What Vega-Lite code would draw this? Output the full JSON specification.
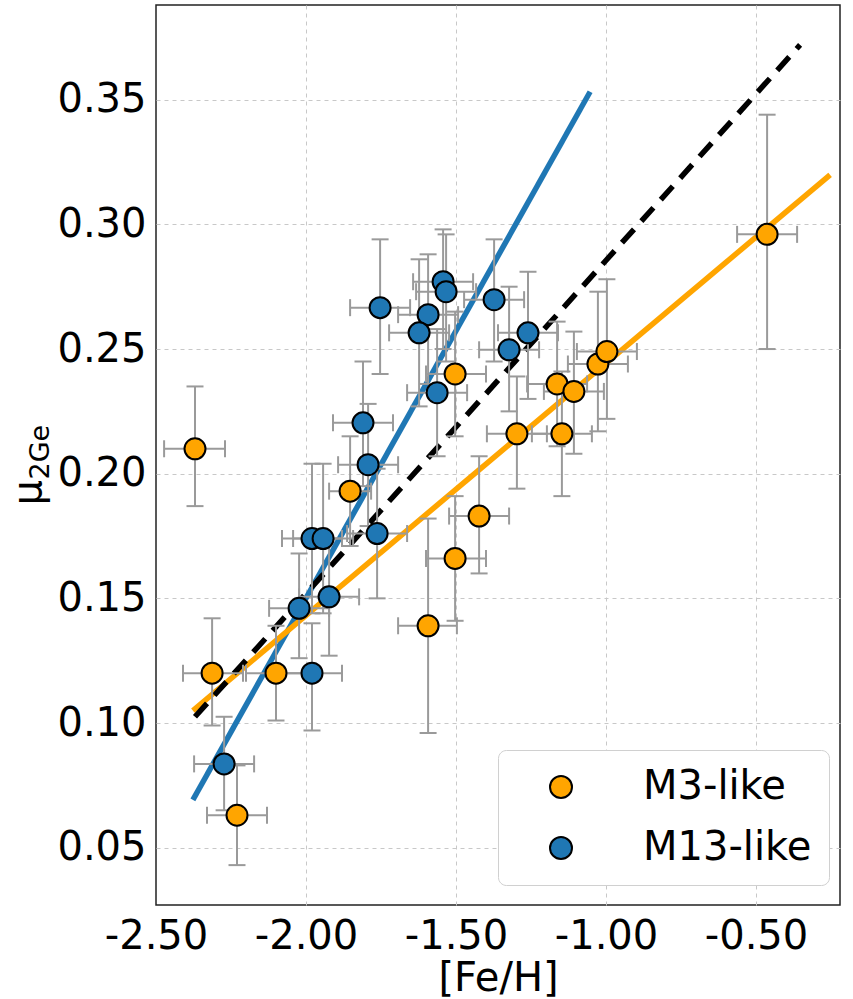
{
  "$schema": "https://vega.github.io/schema/vega-lite/v6.json",
  "width": 684,
  "height": 900,
  "autosize": {"type": "none"},
  "padding": {"left": 156, "top": 5, "right": 13, "bottom": 94},
  "background": "white",
  "config": {
    "view": {"stroke": "#222222", "strokeWidth": 1.5},
    "font": "DejaVu Sans",
    "axis": {
      "labelFont": "DejaVu Sans",
      "titleFont": "DejaVu Sans",
      "labelColor": "black",
      "titleColor": "black",
      "titleFontWeight": "normal",
      "gridColor": "#c8c8c8",
      "gridDash": [4, 4],
      "gridWidth": 1,
      "domain": false,
      "ticks": false
    },
    "legend": {
      "labelFont": "DejaVu Sans"
    }
  },
  "datasets": {
    "pts": [
      {"group": "M3-like", "x": -2.37, "y": 0.210, "xlo": -2.473, "xhi": -2.27, "ylo": 0.187, "yhi": 0.235},
      {"group": "M3-like", "x": -2.313, "y": 0.120, "xlo": -2.41, "xhi": -2.21, "ylo": 0.099, "yhi": 0.142},
      {"group": "M3-like", "x": -2.23, "y": 0.063, "xlo": -2.33, "xhi": -2.13, "ylo": 0.043, "yhi": 0.083},
      {"group": "M3-like", "x": -2.10, "y": 0.120, "xlo": -2.20, "xhi": -2.00, "ylo": 0.101, "yhi": 0.139},
      {"group": "M3-like", "x": -1.853, "y": 0.193, "xlo": -1.923, "xhi": -1.783, "ylo": 0.171, "yhi": 0.215},
      {"group": "M3-like", "x": -1.593, "y": 0.139, "xlo": -1.693, "xhi": -1.497, "ylo": 0.096, "yhi": 0.182},
      {"group": "M3-like", "x": -1.503, "y": 0.240, "xlo": -1.60, "xhi": -1.40, "ylo": 0.215, "yhi": 0.265},
      {"group": "M3-like", "x": -1.503, "y": 0.166, "xlo": -1.60, "xhi": -1.40, "ylo": 0.141, "yhi": 0.191},
      {"group": "M3-like", "x": -1.423, "y": 0.183, "xlo": -1.523, "xhi": -1.323, "ylo": 0.160, "yhi": 0.207},
      {"group": "M3-like", "x": -1.297, "y": 0.216, "xlo": -1.397, "xhi": -1.197, "ylo": 0.194, "yhi": 0.239},
      {"group": "M3-like", "x": -1.163, "y": 0.236, "xlo": -1.263, "xhi": -1.063, "ylo": 0.211, "yhi": 0.261},
      {"group": "M3-like", "x": -1.147, "y": 0.216, "xlo": -1.247, "xhi": -1.047, "ylo": 0.191, "yhi": 0.241},
      {"group": "M3-like", "x": -1.107, "y": 0.233, "xlo": -1.207, "xhi": -1.007, "ylo": 0.208, "yhi": 0.257},
      {"group": "M3-like", "x": -1.027, "y": 0.244, "xlo": -1.127, "xhi": -0.927, "ylo": 0.217, "yhi": 0.273},
      {"group": "M3-like", "x": -0.997, "y": 0.249, "xlo": -1.097, "xhi": -0.897, "ylo": 0.222, "yhi": 0.278},
      {"group": "M3-like", "x": -0.463, "y": 0.296, "xlo": -0.563, "xhi": -0.363, "ylo": 0.250, "yhi": 0.344},
      {"group": "M13-like", "x": -2.273, "y": 0.0836, "xlo": -2.373, "xhi": -2.173, "ylo": 0.065, "yhi": 0.1025},
      {"group": "M13-like", "x": -2.023, "y": 0.146, "xlo": -2.123, "xhi": -1.923, "ylo": 0.126, "yhi": 0.168},
      {"group": "M13-like", "x": -1.923, "y": 0.1506, "xlo": -2.023, "xhi": -1.823, "ylo": 0.127, "yhi": 0.174},
      {"group": "M13-like", "x": -1.98, "y": 0.120, "xlo": -2.08, "xhi": -1.88, "ylo": 0.097, "yhi": 0.140},
      {"group": "M13-like", "x": -1.98, "y": 0.174, "xlo": -2.08, "xhi": -1.88, "ylo": 0.144, "yhi": 0.204},
      {"group": "M13-like", "x": -1.943, "y": 0.174, "xlo": -2.043, "xhi": -1.843, "ylo": 0.144, "yhi": 0.204},
      {"group": "M13-like", "x": -1.763, "y": 0.176, "xlo": -1.863, "xhi": -1.663, "ylo": 0.150, "yhi": 0.202},
      {"group": "M13-like", "x": -1.793, "y": 0.2036, "xlo": -1.893, "xhi": -1.693, "ylo": 0.179, "yhi": 0.228},
      {"group": "M13-like", "x": -1.81, "y": 0.2204, "xlo": -1.91, "xhi": -1.71, "ylo": 0.195, "yhi": 0.245},
      {"group": "M13-like", "x": -1.563, "y": 0.2325, "xlo": -1.663, "xhi": -1.463, "ylo": 0.207, "yhi": 0.258},
      {"group": "M13-like", "x": -1.753, "y": 0.2666, "xlo": -1.853, "xhi": -1.653, "ylo": 0.240, "yhi": 0.294},
      {"group": "M13-like", "x": -1.593, "y": 0.2638, "xlo": -1.693, "xhi": -1.493, "ylo": 0.236, "yhi": 0.288},
      {"group": "M13-like", "x": -1.623, "y": 0.2565, "xlo": -1.723, "xhi": -1.523, "ylo": 0.227, "yhi": 0.286},
      {"group": "M13-like", "x": -1.543, "y": 0.277, "xlo": -1.643, "xhi": -1.443, "ylo": 0.250, "yhi": 0.298},
      {"group": "M13-like", "x": -1.533, "y": 0.273, "xlo": -1.633, "xhi": -1.433, "ylo": 0.245, "yhi": 0.296},
      {"group": "M13-like", "x": -1.373, "y": 0.2698, "xlo": -1.473, "xhi": -1.273, "ylo": 0.245, "yhi": 0.294},
      {"group": "M13-like", "x": -1.26, "y": 0.2565, "xlo": -1.36, "xhi": -1.16, "ylo": 0.230, "yhi": 0.281},
      {"group": "M13-like", "x": -1.323, "y": 0.2497, "xlo": -1.423, "xhi": -1.223, "ylo": 0.225, "yhi": 0.275}
    ],
    "fitM13": [
      {"x": -2.377, "y": 0.0692},
      {"x": -1.053, "y": 0.3532}
    ],
    "fitM3": [
      {"x": -2.377, "y": 0.105},
      {"x": -0.253, "y": 0.3199}
    ],
    "fitAll": [
      {"x": -2.37, "y": 0.1025},
      {"x": -0.353, "y": 0.372}
    ]
  },
  "resolve": {"axis": {"y": "independent"}},
  "layer": [
    {
      "data": {"name": "fitM13"},
      "mark": {"type": "line", "color": "#1f77b4", "strokeWidth": 5.5},
      "encoding": {
        "x": {"field": "x", "type": "quantitative", "title": "[Fe/H]",
              "scale": {"domain": [-2.5, -0.22], "nice": false, "zero": false},
              "axis": {"values": [-2.5, -2.0, -1.5, -1.0, -0.5], "format": ".2f",
                       "labelExpr": "replace(datum.label, '\u2212', '-')",
                       "labelFontSize": 40, "labelPadding": 11, "labelFlush": false, "labelOverlap": false,
                       "titleFontSize": 40, "titleBaseline": "alphabetic", "titleY": 85, "grid": true,
                       "gridOpacity": {"condition": {"test": "datum.value < -2.49", "value": 0}, "value": 1}}},
        "y": {"field": "y", "type": "quantitative", "title": "μ",
              "scale": {"domain": [0.027, 0.388], "nice": false, "zero": false},
              "axis": {"values": [0.05, 0.1, 0.15, 0.2, 0.25, 0.3, 0.35], "format": ".2f",
                       "labelFontSize": 40, "labelPadding": 10, "labelFlush": false, "labelOverlap": false,
                       "grid": true, "titleFontSize": 40, "titleAngle": -90,
                       "titleAlign": "left", "titleBaseline": "alphabetic",
                       "titleX": -116, "titleY": 500}}
      }
    },
    {
      "data": {"name": "fitM3"},
      "mark": {"type": "line", "color": "#FFA500", "strokeWidth": 5.5},
      "encoding": {
        "x": {"field": "x", "type": "quantitative", "title": "[Fe/H]",
              "scale": {"domain": [-2.5, -0.22], "nice": false, "zero": false}},
        "y": {"field": "y", "type": "quantitative", "title": "2Ge",
              "scale": {"domain": [0.027, 0.388], "nice": false, "zero": false},
              "axis": {"orient": "left", "labels": false, "grid": false, "domain": false, "ticks": false,
                       "titleFontSize": 27, "titleAngle": -90,
                       "titleAlign": "left", "titleBaseline": "alphabetic",
                       "titleX": -108, "titleY": 474}}
      }
    },
    {
      "data": {"name": "fitAll"},
      "mark": {"type": "line", "color": "black", "strokeWidth": 5.5, "strokeDash": [18, 11]},
      "encoding": {
        "x": {"field": "x", "type": "quantitative", "title": "[Fe/H]",
              "scale": {"domain": [-2.5, -0.22], "nice": false, "zero": false}},
        "y": {"field": "y", "type": "quantitative", "axis": null,
              "scale": {"domain": [0.027, 0.388], "nice": false, "zero": false}}
      }
    },
    {
      "data": {"name": "pts"},
      "mark": {"type": "rule", "color": "#9a9a9a", "strokeWidth": 2},
      "encoding": {
        "x": {"field": "xlo", "type": "quantitative", "title": "[Fe/H]",
              "scale": {"domain": [-2.5, -0.22], "nice": false, "zero": false}},
        "x2": {"field": "xhi"},
        "y": {"field": "y", "type": "quantitative", "axis": null,
              "scale": {"domain": [0.027, 0.388], "nice": false, "zero": false}}
      }
    },
    {
      "data": {"name": "pts"},
      "mark": {"type": "rule", "color": "#9a9a9a", "strokeWidth": 2},
      "encoding": {
        "x": {"field": "x", "type": "quantitative", "title": "[Fe/H]",
              "scale": {"domain": [-2.5, -0.22], "nice": false, "zero": false}},
        "y": {"field": "ylo", "type": "quantitative", "axis": null,
              "scale": {"domain": [0.027, 0.388], "nice": false, "zero": false}},
        "y2": {"field": "yhi"}
      }
    },
    {
      "data": {"name": "pts"},
      "mark": {"type": "tick", "orient": "vertical", "color": "#9a9a9a", "thickness": 2, "size": 17, "opacity": 1},
      "encoding": {
        "x": {"field": "xlo", "type": "quantitative", "title": "[Fe/H]",
              "scale": {"domain": [-2.5, -0.22], "nice": false, "zero": false}},
        "y": {"field": "y", "type": "quantitative", "axis": null,
              "scale": {"domain": [0.027, 0.388], "nice": false, "zero": false}}
      }
    },
    {
      "data": {"name": "pts"},
      "mark": {"type": "tick", "orient": "vertical", "color": "#9a9a9a", "thickness": 2, "size": 17, "opacity": 1},
      "encoding": {
        "x": {"field": "xhi", "type": "quantitative", "title": "[Fe/H]",
              "scale": {"domain": [-2.5, -0.22], "nice": false, "zero": false}},
        "y": {"field": "y", "type": "quantitative", "axis": null,
              "scale": {"domain": [0.027, 0.388], "nice": false, "zero": false}}
      }
    },
    {
      "data": {"name": "pts"},
      "mark": {"type": "tick", "orient": "horizontal", "color": "#9a9a9a", "thickness": 2, "size": 17, "opacity": 1},
      "encoding": {
        "x": {"field": "x", "type": "quantitative", "title": "[Fe/H]",
              "scale": {"domain": [-2.5, -0.22], "nice": false, "zero": false}},
        "y": {"field": "ylo", "type": "quantitative", "axis": null,
              "scale": {"domain": [0.027, 0.388], "nice": false, "zero": false}}
      }
    },
    {
      "data": {"name": "pts"},
      "mark": {"type": "tick", "orient": "horizontal", "color": "#9a9a9a", "thickness": 2, "size": 17, "opacity": 1},
      "encoding": {
        "x": {"field": "x", "type": "quantitative", "title": "[Fe/H]",
              "scale": {"domain": [-2.5, -0.22], "nice": false, "zero": false}},
        "y": {"field": "yhi", "type": "quantitative", "axis": null,
              "scale": {"domain": [0.027, 0.388], "nice": false, "zero": false}}
      }
    },
    {
      "data": {"name": "pts"},
      "mark": {"type": "point", "shape": "circle", "filled": true, "size": 440, "stroke": "black", "strokeWidth": 2, "opacity": 1},
      "encoding": {
        "x": {"field": "x", "type": "quantitative", "title": "[Fe/H]",
              "scale": {"domain": [-2.5, -0.22], "nice": false, "zero": false}},
        "y": {"field": "y", "type": "quantitative", "axis": null,
              "scale": {"domain": [0.027, 0.388], "nice": false, "zero": false}},
        "color": {"field": "group", "type": "nominal",
                  "scale": {"domain": ["M3-like", "M13-like"], "range": ["#FFA500", "#1f77b4"]},
                  "legend": {"title": null, "orient": "none", "legendX": 342, "legendY": 745,
                             "fillColor": "white", "strokeColor": "#d0d0d0", "cornerRadius": 8,
                             "padding": 17, "symbolOffset": 26, "labelOffset": 62, "labelLimit": 400,
                             "labelFontSize": 40, "labelColor": "black", "rowPadding": 21,
                             "symbolSize": 484, "symbolType": "circle",
                             "symbolStrokeColor": "black", "symbolStrokeWidth": 2, "symbolOpacity": 1}}
      }
    }
  ]
}
